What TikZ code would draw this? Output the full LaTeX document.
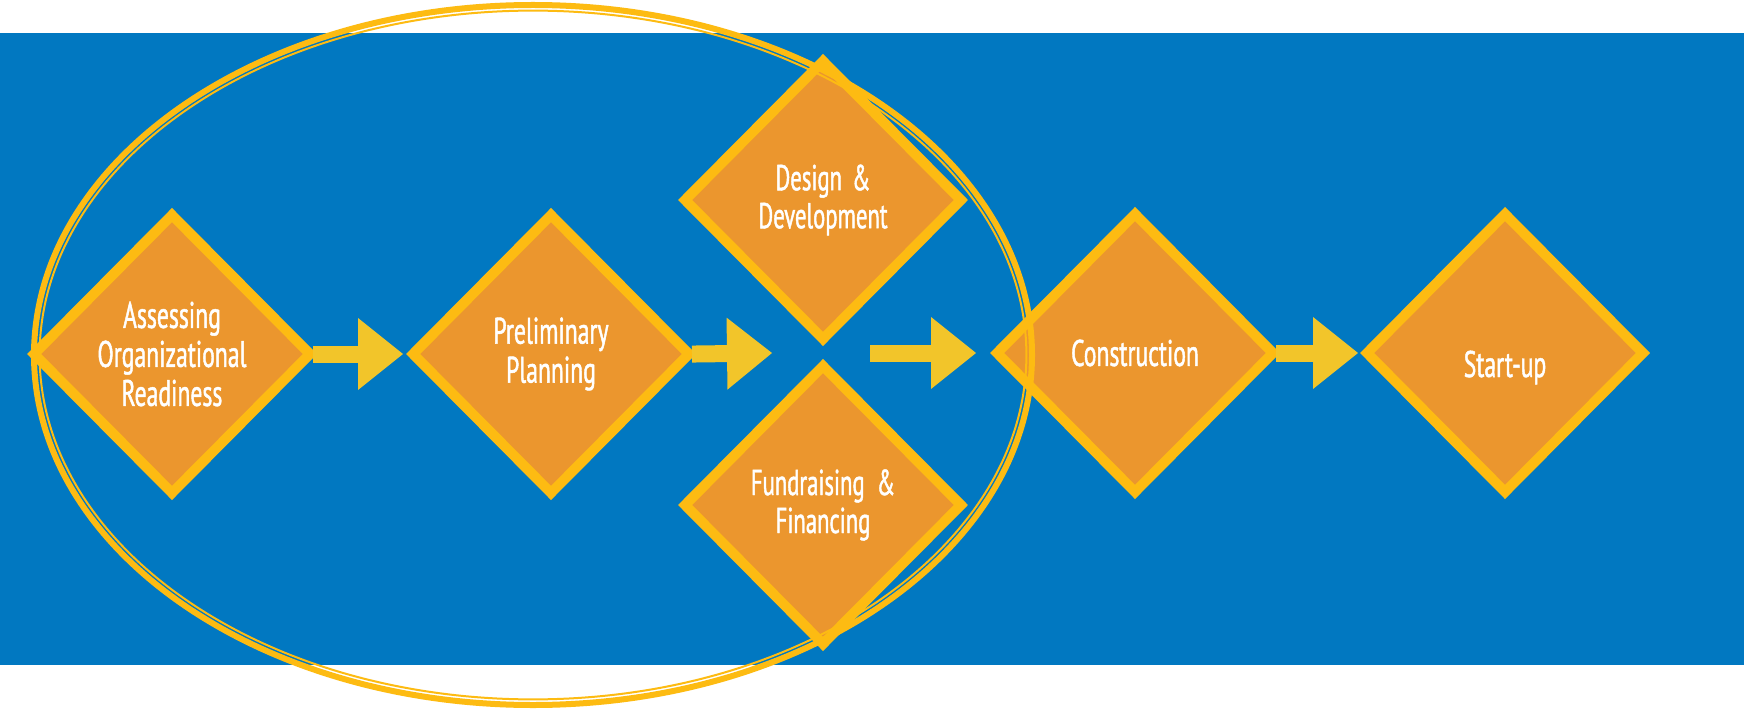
\documentclass[tikz,border=0pt]{standalone}
\usepackage{fontspec}
\usetikzlibrary{shapes.geometric,arrows.meta}
\newfontfamily\stagefont[FakeStretch=0.64,FakeBold=1.2]{PT Sans}
\newfontfamily\widestagefont[FakeStretch=0.63,FakeBold=1.2]{PT Sans}
\definecolor{bandblue}{HTML}{0178C1}
\definecolor{stageorange}{HTML}{EB962E}
\definecolor{rimyellow}{HTML}{FDBB12}
\definecolor{flowyellow}{HTML}{F2C52A}

\tikzset{
	stage/.style={shape=diamond, draw=rimyellow, fill=stageorange, line width=5pt,
		minimum width=140pt, minimum height=141pt, inner sep=0pt, align=center,
		text=white, font=\stagefont\fontsize{18.5}{19.5}\selectfont},
	widestage/.style={stage, font=\widestagefont\fontsize{18}{19}\selectfont},
	flow/.style={draw=flowyellow, line width=8.5pt, shorten <=-2pt,
		-{Triangle[length=22.5pt,width=36pt,line width=0pt]}},
}

\begin{document}
\begin{tikzpicture}[x=0.5pt, y=-0.5pt]
	\fill[white] (0,0) rectangle (1744,711);
	\fill[bandblue] (0,33) rectangle (1744,665);
	% stages
	\node[stage] (aor) at (172,354) {Assessing\\Organizational\\Readiness};
	\node[stage] (pp)  at (551,354) {Preliminary\\Planning};
	\node[widestage] (dd) at (823,200) {Design\hspace{5pt}\&\\Development};
	\node[widestage] (ff) at (823,505) {Fundraising\hspace{6pt}\&\\Financing};
	\node[stage] (con) at (1135,353) {Construction};
	\node[stage] (su)  at (1505,353) {\raisebox{-12pt}[0pt][0pt]{Start-up}};
	\coordinate (split) at (772,353);
	\coordinate (join)  at (870,353);
	% arrows
	\draw[flow, shorten >=1.5pt] (aor.east) -- (pp.west);
	\draw[flow] (pp.east) -- (split);
	\draw[flow, shorten <=0pt, shorten >=7pt] (join) -- (con.west);
	\draw[flow, shorten >=1pt] (con.east) -- (su.west);
	% double ring round the first four stages
	\draw[rimyellow, line width=3pt] (533,355) ellipse [x radius=249.5pt, y radius=175pt];
	\draw[rimyellow, line width=1pt] (533,355) ellipse [x radius=246.7pt, y radius=172.2pt];
\end{tikzpicture}
\end{document}
